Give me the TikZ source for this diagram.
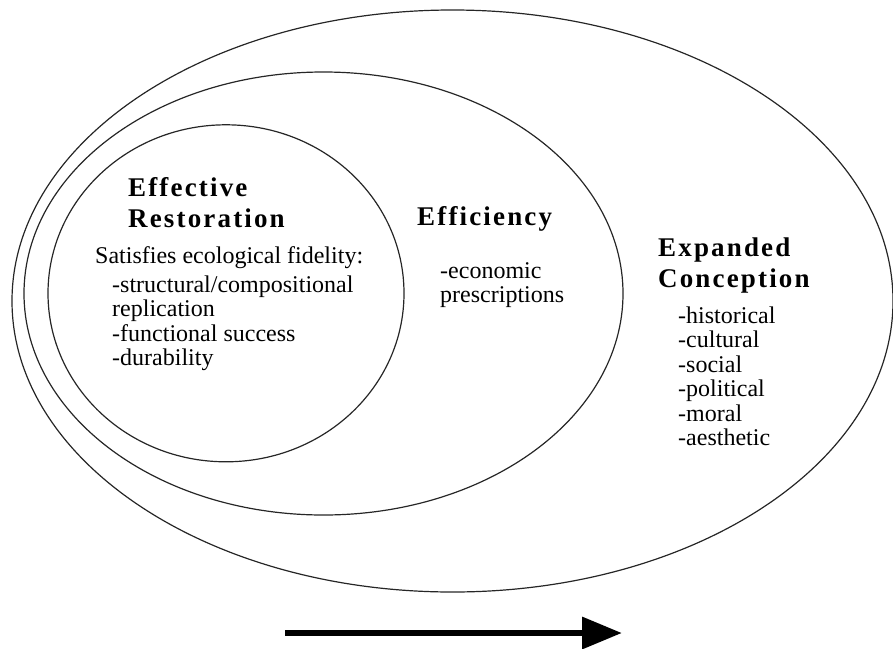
\documentclass[tikz,border=0pt]{standalone}
\usepackage{fontspec}
\setmainfont{Liberation Serif}
\usetikzlibrary{shapes.geometric,arrows.meta}
\tikzset{
  ring/.style={ellipse, draw=black!85, line width=1.2pt, inner sep=0pt, outer sep=0pt},
  headtxt/.style={anchor=base west, inner sep=0pt, font=\fontsize{27}{30}\selectfont\bfseries\addfontfeature{LetterSpace=8}},
  bodytxt/.style={anchor=base west, inner sep=0pt, font=\fontsize{24}{26}\selectfont},
}
\begin{document}
\begin{tikzpicture}[x=1pt,y=-1pt]
\useasboundingbox (0,0) rectangle (893,648);
% ellipses
\node[ring, minimum width=881pt, minimum height=582pt] (outer) at (452.5,301) {};
\node[ring, minimum width=599pt, minimum height=443pt] (middle) at (323.5,293.5) {};
\node[ring, minimum width=356pt, minimum height=337pt] (inner) at (226,293.3) {};
% inner texts
\node[headtxt] (eff1) at (128,196) {Effective};
\node[headtxt] (eff2) at (128,227) {Restoration};
\node[bodytxt] (sat) at (95,263) {Satisfies ecological fidelity:};
\node[bodytxt] (l1) at (112,292) {-structural/compositional};
\node[bodytxt] (l2) at (112,316.5) {replication};
\node[bodytxt] (l3) at (112,341) {-functional success};
\node[bodytxt] (l4) at (112,365) {-durability};
% middle texts
\node[headtxt] (effi) at (417,225) {Efficiency};
\node[bodytxt] (m1) at (440,278) {-economic};
\node[bodytxt] (m2) at (440,302) {prescriptions};
% outer texts
\node[headtxt] (exp1) at (658,256) {Expanded};
\node[headtxt] (exp2) at (658,287) {Conception};
\node[bodytxt] (o1) at (678,323) {-historical};
\node[bodytxt] (o2) at (678,347.5) {-cultural};
\node[bodytxt] (o3) at (678,372) {-social};
\node[bodytxt] (o4) at (678,396.5) {-political};
\node[bodytxt] (o5) at (678,421) {-moral};
\node[bodytxt] (o6) at (678,445.5) {-aesthetic};
% arrow
\coordinate (arrS) at (285,633);
\coordinate (arrE) at (622,633);
\draw[line width=6.5pt, -{Triangle[length=40pt,width=31pt]}] (arrS) -- (arrE);
\end{tikzpicture}
\end{document}
